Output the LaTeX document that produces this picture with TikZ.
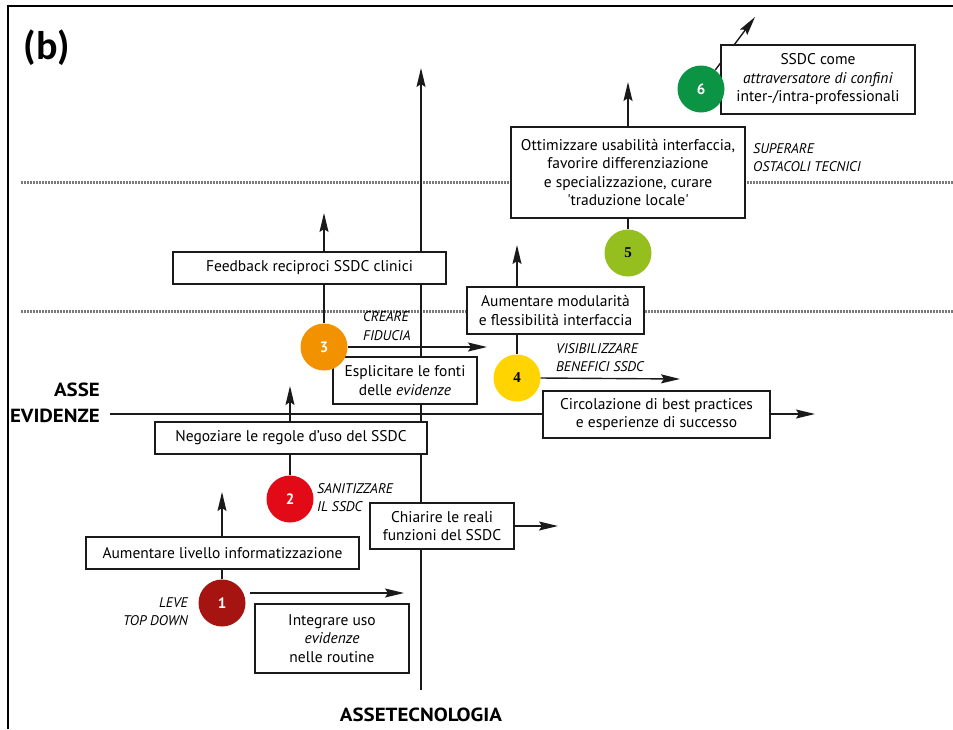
\documentclass[tikz,border=0pt]{standalone}
\usepackage{fontspec}
\setmainfont{PT Sans}
\newfontfamily\tagfont{Carlito}
\newfontfamily\boxfont{PT Sans}
\newfontfamily\lblfont{PT Sans}
\newfontfamily\axisfont[FakeStretch=1.1]{PT Sans}
\newfontfamily\numserif{Liberation Serif}
\usetikzlibrary{arrows.meta,backgrounds}

\definecolor{lev1}{HTML}{A51410}
\definecolor{lev2}{HTML}{E20A17}
\definecolor{lev3}{HTML}{F39200}
\definecolor{lev4}{HTML}{FFD400}
\definecolor{lev5}{HTML}{95BE1F}
\definecolor{lev6}{HTML}{0B9444}
\definecolor{ink}{HTML}{1A1A1A}
\definecolor{sep}{HTML}{7A7A7A}

\tikzset{
  box/.style={draw=ink, line width=1.3pt, fill=white, align=center, inner sep=0pt,
    font=\boxfont\fontsize{15.5}{18.5}\selectfont},
  lever/.style={circle, draw=none, minimum size=47pt, inner sep=0pt,
    font=\bfseries\fontsize{15}{15}\selectfont, text=white},
  link/.style={draw=ink, line width=1.4pt},
  arr/.style={link, -{Stealth[length=19pt,width=9pt,inset=3pt]}},
  note/.style={inner sep=0pt, font=\lblfont\itshape\fontsize{14}{18.5}\selectfont},
  axislabel/.style={inner sep=0pt, font=\axisfont\bfseries\fontsize{19}{26}\selectfont},
  dotline/.style={sep, line width=3pt, dash pattern=on 2.2pt off 0.8pt},
}

\begin{document}
\begin{tikzpicture}[x=1pt,y=-1pt]
\useasboundingbox (0,0) rectangle (953,729);

% frame
\draw[line width=2pt] (8,729) -- (8,6) -- (953,6);
\node[font=\tagfont\bfseries\fontsize{40}{40}\selectfont, inner sep=0pt] (tag) at (47,48) {(b)};

% level separators
\draw[dotline] (21,182) -- (953,182);
\draw[dotline] (21,311) -- (953,311);

% axes
\coordinate (vy0) at (421,690);
\coordinate (vy1) at (421,68);
\coordinate (hx0) at (110,414);
\coordinate (hx1) at (815,414);
\draw[arr] (vy0) -- (vy1);
\draw[arr] (hx0) -- (hx1);
\node[axislabel, align=right, anchor=east] (ev) at (100,403) {ASSE\\EVIDENZE};
\node[axislabel] (tec) at (421,715) {ASSETECNOLOGIA};

% boxes
\node[box, minimum width=273pt, minimum height=32pt] (bAum) at (222.5,553) {Aumentare livello informatizzazione};
\node[box, minimum width=154pt, minimum height=69pt] (bInt) at (332,638.5) {Integrare uso\\\textit{evidenze}\\nelle routine};
\node[box, minimum width=272pt, minimum height=32pt] (bNeg) at (291,438) {Negoziare le regole d’uso del SSDC};
\node[box, minimum width=144pt, minimum height=46pt] (bChi) at (442,526) {Chiarire le reali\\funzioni del SSDC};
\node[box, minimum width=273pt, minimum height=32pt] (bFeed) at (309.5,268) {Feedback reciproci SSDC clinici};
\node[box, minimum width=144pt, minimum height=47pt] (bEsp) at (405,380.5) {Esplicitare le fonti\\delle \textit{evidenze}};
\node[box, minimum width=177pt, minimum height=47pt] (bMod) at (555.5,310.5) {Aumentare modularità\\e flessibilità interfaccia};
\node[box, minimum width=227pt, minimum height=47pt] (bCirc) at (656.5,414.5) {Circolazione di best practices\\e esperienze di successo};
\node[box, minimum width=234pt, minimum height=91pt] (bOtt) at (628,172.5) {Ottimizzare usabilità interfaccia,\\favorire differenziazione\\e specializzazione, curare\\\textquotesingle traduzione locale\textquotesingle};
\node[box, minimum width=194pt, minimum height=69pt] (bSsd) at (818,79.5) {SSDC come\\\textit{attraversatore di confini}\\inter-/intra-professionali};

% levers
\node[lever, fill=lev1] (c1) at (222,603) {1};
\node[lever, fill=lev2] (c2) at (290,499) {2};
\node[lever, fill=lev3] (c3) at (324,347) {3};
\node[lever, fill=lev4, text=black, font=\numserif\bfseries\fontsize{15}{15}\selectfont] (c4) at (517,378) {4};
\node[lever, fill=lev5, text=black, font=\numserif\bfseries\fontsize{15}{15}\selectfont] (c5) at (628,253) {5};
\node[lever, fill=lev6] (c6) at (701,89) {6};

% lever notes
\node[note, align=right, anchor=east] (n1) at (188,611.5) {LEVE\\TOP DOWN};
\node[note, align=left, anchor=west] (n2) at (317,497.5) {SANITIZZARE\\IL SSDC};
\node[note, align=left, anchor=west] (n3) at (363,326) {CREARE\\FIDUCIA};
\node[note, align=left, anchor=west] (n4) at (556,357.5) {VISIBILIZZARE\\BENEFICI SSDC};
\node[note, align=left, anchor=west] (n5) at (753,157.5) {SUPERARE\\OSTACOLI TECNICI};

% arrow tips
\coordinate (t1u) at (223,492);
\coordinate (t1r) at (404,593);
\coordinate (t2u) at (291,386);
\coordinate (t2r) at (558,526);
\coordinate (t3u) at (325,213);
\coordinate (t3r) at (487,347);
\coordinate (t4u) at (518,245);
\coordinate (t4r) at (680,379);
\coordinate (t5u) at (628,82);
\coordinate (t6) at (755,17);

% lever 1
\draw[link] (c1.north) -- (bAum.south -| c1.north);
\draw[arr] (bAum.north -| c1.north) -- (t1u -| c1.north);
\draw[arr] ([xshift=4pt,yshift=10pt]c1.east) -- (t1r);
% lever 2
\draw[link] (c2.north) -- (bNeg.south -| c2.north);
\draw[arr] (bNeg.north -| c2.north) -- (t2u -| c2.north);
\draw[arr] (bChi.east) -- (t2r);
% lever 3
\draw[link] (c3.north) -- (bFeed.south -| c3.north);
\draw[arr] (bFeed.north -| c3.north) -- (t3u -| c3.north);
\draw[arr] (c3.east) -- (t3r);
% lever 4
\draw[link] (c4.north) -- (bMod.south -| c4.north);
\draw[arr] (bMod.north -| c4.north) -- (t4u -| c4.north);
\draw[arr] (c4.east) -- (t4r);
% lever 5
\draw[link] (c5.north) -- (bOtt.south -| c5.north);
\draw[arr] (bOtt.north -| c5.north) -- (t5u -| c5.north);
% lever 6 (runs behind its box)
\begin{pgfonlayer}{background}
\draw[arr] (c6) -- (t6);
\end{pgfonlayer}
\end{tikzpicture}
\end{document}
